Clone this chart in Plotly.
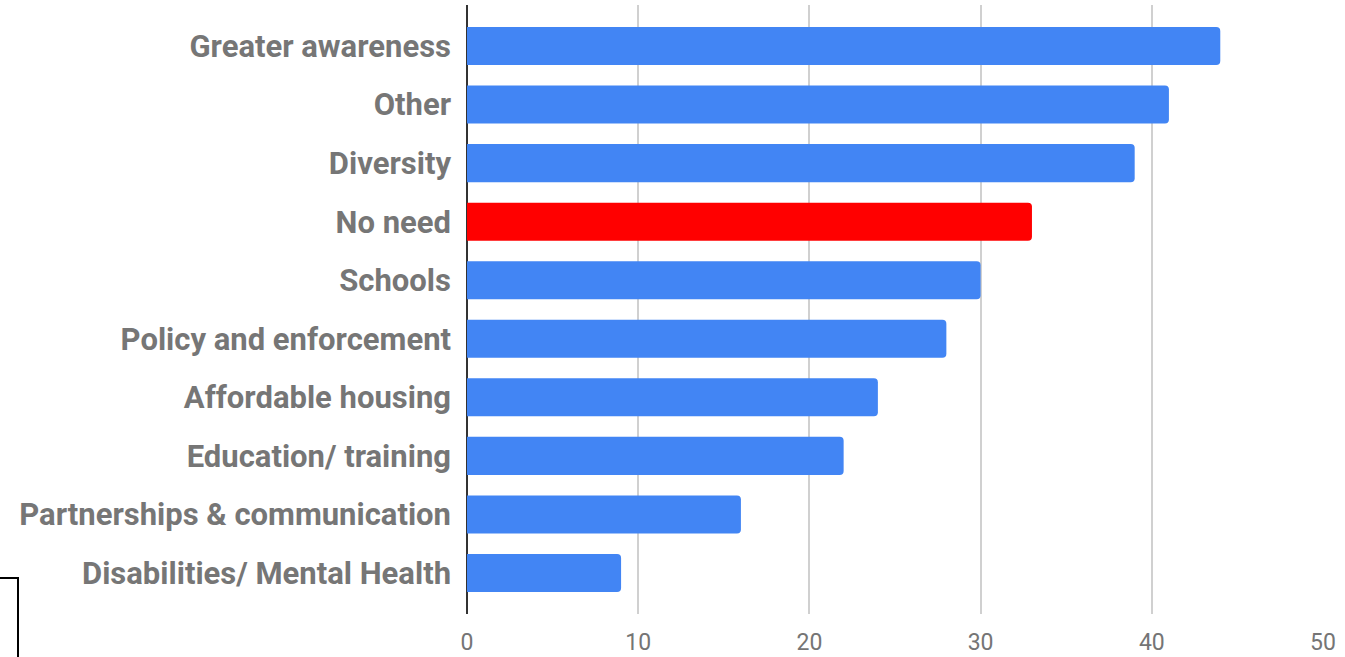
import plotly.graph_objects as go

categories = ['Greater awareness', 'Other', 'Diversity', 'No need', 'Schools',
              'Policy and enforcement', 'Affordable housing', 'Education/ training',
              'Partnerships & communication', 'Disabilities/ Mental Health']
counts = [44, 41, 39, 33, 30, 28, 24, 22, 16, 9]
highlight = 'No need'
x_ticks = [0, 10, 20, 30, 40, 50]

colors = ['#ff0000' if c == highlight else '#4285f4' for c in categories]

fig = go.Figure()
fig.add_trace(go.Bar(
    x=counts, y=categories, orientation='h',
    marker=dict(color=colors, line=dict(width=0), cornerradius=4),
    width=0.65, showlegend=False,
))

fig.update_layout(
    width=1345, height=657,
    margin=dict(l=467, r=22, t=5, b=43),
    plot_bgcolor='white', paper_bgcolor='white',
    font=dict(family='Roboto', color='#757575'),
    xaxis=dict(range=[0, 50], tickvals=x_ticks, showgrid=True, gridcolor='#d0d0d0',
               gridwidth=2, zeroline=True, zerolinecolor='#333333', zerolinewidth=2,
               tickfont=dict(size=23, color='#757575'), ticklabelstandoff=12,
               showline=False, automargin=False),
    yaxis=dict(categoryorder='array', categoryarray=categories, autorange=False,
               range=[9.7, -0.7], showgrid=False, zeroline=False,
               tickfont=dict(size=31, color='#767676', family='Roboto', weight='bold'),
               ticklabelstandoff=15, automargin=False),
    shapes=[dict(type='rect', xref='paper', yref='paper',
                 x0=-470/856, x1=-449/856, y0=-80/609, y1=36/609,
                 line=dict(color='black', width=2), fillcolor='rgba(0,0,0,0)')],
)

# page has default body margin; drop it so the figure sits at the window corner
fig.write_html('out.html', config={'displayModeBar': False},
               post_script="document.body.style.margin='0';document.body.style.overflow='hidden';")
